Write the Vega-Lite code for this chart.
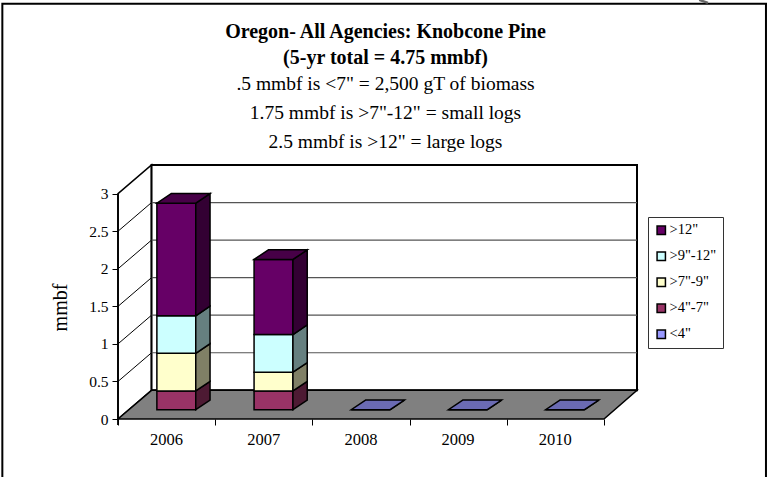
{
"$schema":"https://vega.github.io/schema/vega-lite/v6.json",
"width":519,"height":254,
"autosize":{"type":"none"},
"padding":{"left":118,"top":165,"right":130,"bottom":58},
"background":"white",
"title":{"text":["Oregon- All Agencies:  Knobcone Pine","(5-yr total = 4.75 mmbf)"],
"subtitle":[".5 mmbf is <7\" = 2,500 gT of biomass","1.75 mmbf is >7\"-12\" = small logs","2.5 mmbf is >12\" = large logs"],
"anchor":"middle","frame":"group","dx":8,"offset":-153,"font":"Liberation Serif","fontSize":20,"fontWeight":"bold","color":"black","lineHeight":26,
"subtitleFont":"Liberation Serif","subtitleFontSize":19.5,"subtitleColor":"black","subtitleLineHeight":29,"subtitlePadding":7},
"config":{"view":{"stroke":null}},
"layer":[
{"data":{"values":[{}]},"mark":{"type":"rect","fill":null,"stroke":"black","strokeWidth":2},
 "encoding":{
  "x":{"datum":2004.81,"type":"quantitative","scale":{"domain":[2006,2011.34],"nice":false,"zero":false},
   "axis":{"title":null,"values":[2006,2007,2008,2009,2010,2011],"labelExpr":"datum.value<2011?format(datum.value,'d'):''","labelOffset":48,"labelFlush":false,"labelFont":"Liberation Serif","labelFontSize":16.5,"labelColor":"black","tickColor":"black","tickSize":6,"domain":false,"grid":false,"labelPadding":6,"labelAngle":0}},
  "x2":{"datum":2012.667},
  "y":{"datum":5.53,"type":"quantitative","scale":{"domain":[0,3.382],"nice":false,"zero":false},
   "axis":{"title":"mmbf","titleFont":"Liberation Serif","titleFontSize":20,"titleFontWeight":"normal","titleColor":"black","titleX":-48,"titleY":142,"values":[0,0.5,1,1.5,2,2.5,3],"format":"~g","labelFlush":false,"labelFont":"Liberation Serif","labelFontSize":15.5,"labelColor":"black","tickColor":"black","tickSize":6,"domain":false,"grid":false,"labelPadding":4}},
  "y2":{"datum":-0.85}
 }},
{"data":{"values":[{}]},"mark":{"type":"rule","stroke":"#666666","strokeWidth":2.5},
 "encoding":{"x":{"datum":2011.98,"type":"quantitative"},"x2":{"datum":2012.07},"y":{"datum":5.58,"type":"quantitative"},"y2":{"datum":5.54}}},
{"data":{"values":[{"depth":0},{"depth":1}]},
 "transform":[{"calculate":"2006+0.345*datum.depth","as":"xp"},{"calculate":"0.382*datum.depth","as":"yb"},{"calculate":"3+0.382*datum.depth","as":"yt"}],
 "mark":{"type":"area","fill":"white","stroke":"black","strokeWidth":1.5},
 "encoding":{"x":{"field":"xp","type":"quantitative"},"y":{"field":"yb","type":"quantitative","stack":null},"y2":{"field":"yt"}}},
{"data":{"values":[{}]},"mark":{"type":"rect","fill":"white","stroke":"black","strokeWidth":2},
 "encoding":{"x":{"datum":2006.345,"type":"quantitative"},"x2":{"datum":2011.34},"y":{"datum":0.382,"type":"quantitative"},"y2":{"datum":3.382}}},
{"data":{"values":[{"tick":0.5},{"tick":1},{"tick":1.5},{"tick":2},{"tick":2.5}]},
 "transform":[{"calculate":"datum.tick+0.382","as":"yw"}],
 "layer":[
 {"mark":{"type":"rule","stroke":"#555555","strokeWidth":1.2},
  "encoding":{"x":{"datum":2006.345,"type":"quantitative"},"x2":{"datum":2011.34},"y":{"field":"yw","type":"quantitative"}}},
 {"mark":{"type":"rule","stroke":"black","strokeWidth":1},
  "encoding":{"x":{"datum":2006,"type":"quantitative"},"x2":{"datum":2006.345},"y":{"field":"tick","type":"quantitative"},"y2":{"field":"yw"}}}
 ]},
{"data":{"values":[{"depth":0},{"depth":1}]},
 "transform":[{"calculate":"2006+0.345*datum.depth","as":"xl"},{"calculate":"2011+0.34*datum.depth","as":"xr"},{"calculate":"0.382*datum.depth","as":"yp"}],
 "mark":{"type":"area","orient":"horizontal","fill":"#808080","stroke":"black","strokeWidth":1.5},
 "encoding":{"y":{"field":"yp","type":"quantitative"},"x":{"field":"xl","type":"quantitative","stack":null},"x2":{"field":"xr"}}},
{"data":{"values":[{}]},"mark":{"type":"rule","stroke":"black","strokeWidth":1.8},
 "encoding":{"x":{"datum":2006,"type":"quantitative"},"y":{"datum":-0.08,"type":"quantitative"},"y2":{"datum":3}}},
{"data":{"values":[
 {"year":2006,"size":">4\"-7\"","value":0.25},
 {"year":2006,"size":">7\"-9\"","value":0.5},
 {"year":2006,"size":">9\"-12\"","value":0.5},
 {"year":2006,"size":">12\"","value":1.5},
 {"year":2007,"size":">4\"-7\"","value":0.25},
 {"year":2007,"size":">7\"-9\"","value":0.25},
 {"year":2007,"size":">9\"-12\"","value":0.5},
 {"year":2007,"size":">12\"","value":1},
 {"year":2008,"size":"<4\"","value":0},
 {"year":2009,"size":"<4\"","value":0},
 {"year":2010,"size":"<4\"","value":0}
 ]},
 "transform":[
  {"stack":"value","groupby":["year"],"as":["lo","hi"]},
  {"joinaggregate":[{"op":"max","field":"hi","as":"total"}],"groupby":["year"]},
  {"calculate":"[0,1]","as":"d"},{"flatten":["d"]},
  {"calculate":"datum.year+0.4+0.147*datum.d","as":"xl"},
  {"calculate":"datum.year+0.8+0.147*datum.d","as":"xr"},
  {"calculate":"datum.lo+0.124+0.128*datum.d","as":"yl"},
  {"calculate":"datum.hi+0.124+0.128*datum.d","as":"yh"}
 ],
 "resolve":{"scale":{"color":"independent"}},
 "layer":[
 {"transform":[{"filter":"datum.d==0"}],
  "mark":{"type":"rect","stroke":"black","strokeWidth":1.5},
  "encoding":{"x":{"field":"xl","type":"quantitative"},"x2":{"field":"xr"},"y":{"field":"yl","type":"quantitative"},"y2":{"field":"yh"},
   "color":{"field":"size","type":"nominal","scale":{"domain":[">12\"",">9\"-12\"",">7\"-9\"",">4\"-7\"","<4\""],"range":["#660066","#CCFFFF","#FFFFCC","#993366","#9999FF"]},
    "legend":{"title":null,"orient":"none","legendX":530,"legendY":52,"symbolType":"square","symbolSize":70,"symbolStrokeColor":"black","symbolStrokeWidth":1.5,"labelFont":"Liberation Serif","labelFontSize":14.5,"labelColor":"black","rowPadding":10,"padding":6,"strokeColor":"#333333","fillColor":"white","labelOffset":1}}}},
 {"mark":{"type":"area","stroke":"black","strokeWidth":1.5},
  "encoding":{"x":{"field":"xr","type":"quantitative"},"y":{"field":"yl","type":"quantitative","stack":null},"y2":{"field":"yh"},"detail":{"field":"year"},
   "color":{"field":"size","type":"nominal","legend":null,"scale":{"domain":[">12\"",">9\"-12\"",">7\"-9\"",">4\"-7\"","<4\""],"range":["#330033","#668080","#808066","#4D1A33","#4D4D80"]}}}},
 {"transform":[{"filter":"datum.hi==datum.total"}],
  "mark":{"type":"area","orient":"horizontal","stroke":"black","strokeWidth":1.5},
  "encoding":{"y":{"field":"yh","type":"quantitative"},"x":{"field":"xl","type":"quantitative","stack":null},"x2":{"field":"xr"},"detail":{"field":"year"},
   "color":{"field":"size","type":"nominal","legend":null,"scale":{"domain":[">12\"",">9\"-12\"",">7\"-9\"",">4\"-7\"","<4\""],"range":["#470047","#8FB3B3","#B3B38F","#6B2447","#6B6BB3"]}}}}
 ]}
]}
